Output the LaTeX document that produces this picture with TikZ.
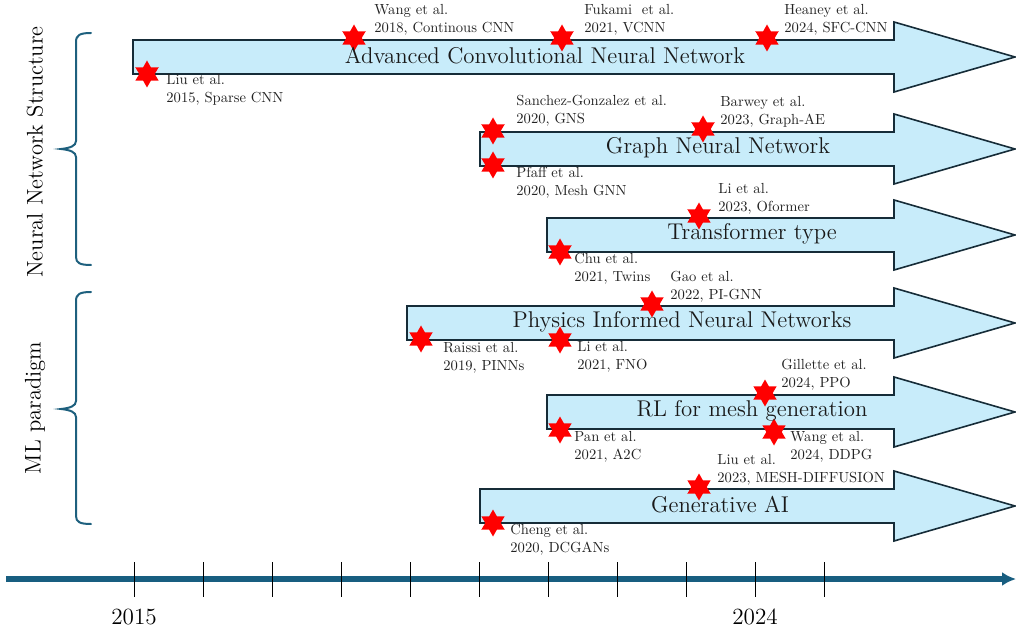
\documentclass[tikz,border=0pt]{standalone}
\usepackage{fontspec}
\usetikzlibrary{shapes.geometric,arrows.meta}
\newfontfamily\notefont{lmroman10-regular.otf}
\newfontfamily\titlefont{lmroman12-regular.otf}
\definecolor{bandfill}{RGB}{200,236,250}
\definecolor{bandline}{RGB}{22,44,56}
\definecolor{axisblue}{RGB}{24,94,128}
\definecolor{bracecol}{RGB}{30,96,126}
\definecolor{notegray}{RGB}{35,35,35}

% one timeline band: left end x, centre y
\newcommand\bandarrow[2]{%
  \draw[band] (#1,{#2-17}) -- (894,{#2-17}) -- (894,{#2-35}) -- (1015,#2)
    -- (894,{#2+35}) -- (894,{#2+17}) -- (#1,{#2+17}) -- cycle;}

\begin{document}
\begin{tikzpicture}[x=0.5pt,y=-0.5pt,
  band/.style={fill=bandfill,draw=bandline,line width=0.8pt,line join=miter},
  bandtitle/.style={font=\titlefont\fontsize{11.4}{13}\selectfont,inner sep=0,text=black!90},
  note/.style={font=\notefont\fontsize{7.3}{9}\selectfont,align=left,anchor=west,inner sep=0,text=notegray},
  hexstar/.style={star,star points=6,star point ratio=1.75,fill=red,draw=none,minimum size=13.5pt,inner sep=0},
  bracket/.style={draw=bracecol,line width=1pt,line cap=round},
  sidelabel/.style={rotate=90,font=\titlefont\fontsize{11.3}{13}\selectfont,inner sep=0},
  yearlabel/.style={font=\titlefont\fontsize{11.6}{13}\selectfont,inner sep=0},
  tickline/.style={draw=black,line width=0.5pt}]

\useasboundingbox (0,0) rectangle (1016,630);

% ---- bands ----
\bandarrow{133}{57}
\bandarrow{480}{149}
\bandarrow{547}{235}
\bandarrow{407}{323}
\bandarrow{547}{412}
\bandarrow{480}{506}

% ---- publication markers ----
\node[hexstar] (s1)  at (147,74)  {};
\node[hexstar] (s2)  at (354,38)  {};
\node[hexstar] (s3)  at (562,38)  {};
\node[hexstar] (s4)  at (767,38)  {};
\node[hexstar] (s5)  at (493,131) {};
\node[hexstar] (s6)  at (493,165) {};
\node[hexstar] (s7)  at (703,129) {};
\node[hexstar] (s8)  at (699,216) {};
\node[hexstar] (s9)  at (560,252) {};
\node[hexstar] (s10) at (652,304) {};
\node[hexstar] (s11) at (421,339) {};
\node[hexstar] (s12) at (560,340) {};
\node[hexstar] (s13) at (765,393) {};
\node[hexstar] (s14) at (560,430) {};
\node[hexstar] (s15) at (774,432) {};
\node[hexstar] (s16) at (699,487) {};
\node[hexstar] (s17) at (493,523) {};

% ---- band titles ----
\node[bandtitle] (t1) at (545,56)  {Advanced Convolutional Neural Network};
\node[bandtitle] (t2) at (718,148) {Graph Neural Network};
\node[bandtitle] (t3) at (752,234) {Transformer type};
\node[bandtitle] (t4) at (682,322) {Physics Informed Neural Networks};
\node[bandtitle] (t5) at (752,411) {RL for mesh generation};
\node[bandtitle] (t6) at (720,505) {Generative AI};

% ---- references ----
\node[note] (n1)  at (166,90)  {Liu et al.\\2015, Sparse CNN};
\node[note] (n2)  at (374,20)  {Wang et al.\\2018, Continous CNN};
\node[note] (n3)  at (584,20)  {Fukami~ et al.\\2021, VCNN};
\node[note] (n4)  at (784,20)  {Heaney et al.\\2024, SFC-CNN};
\node[note] (n5)  at (516,111) {Sanchez-Gonzalez et al.\\2020, GNS};
\node[note] (n6)  at (516,183) {Pfaff et al.\\2020, Mesh GNN};
\node[note] (n7)  at (720,112) {Barwey et al.\\2023, Graph-AE};
\node[note] (n8)  at (718,199) {Li et al.\\2023, Oformer};
\node[note] (n9)  at (574,269) {Chu et al.\\2021, Twins};
\node[note] (n10) at (670,287) {Gao et al.\\2022, PI-GNN};
\node[note] (n11) at (443,358) {Raissi et al.\\2019, PINNs};
\node[note] (n12) at (577,357) {Li et al.\\2021, FNO};
\node[note] (n13) at (781,375) {Gillette et al.\\2024, PPO};
\node[note] (n14) at (574,447) {Pan et al.\\2021, A2C};
\node[note] (n15) at (790,447) {Wang et al.\\2024, DDPG};
\node[note] (n16) at (717,470) {Liu et al.\\2023, MESH-DIFFUSION};
\node[note] (n17) at (510,540) {Cheng et al.\\2020, DCGANs};

% ---- group brackets and labels ----
\draw[bracket] (91,33) .. controls (80,33) and (76,35) .. (76,42) -- (76,141)
  .. controls (76,146) and (70,148) .. (61,149)
  .. controls (70,150) and (76,152) .. (76,157) -- (76,257)
  .. controls (76,263) and (80,265) .. (91,265);
\draw[bracket] (91,292) .. controls (80,292) and (76,294) .. (76,301) -- (76,401)
  .. controls (76,406) and (70,408) .. (61,409)
  .. controls (70,410) and (76,412) .. (76,417) -- (76,516)
  .. controls (76,522) and (80,524) .. (91,524);
\node[sidelabel] (g1) at (35,152) {Neural Network Structure};
\node[sidelabel] (g2) at (35,408) {ML paradigm};

% ---- time axis ----
\coordinate (axstart) at (6,579);
\coordinate (axend) at (1016,579);
\draw[axisblue,line width=2.6pt,-{Latex[length=7pt,width=7pt]}] (axstart) -- (axend);
\foreach \k in {0,...,10}
  \draw[tickline] ({134+69*\k},562) -- ({134+69*\k},597);
\node[yearlabel] (y1) at (134,617) {2015};
\node[yearlabel] (y2) at (755,617) {2024};

\end{tikzpicture}
\end{document}
